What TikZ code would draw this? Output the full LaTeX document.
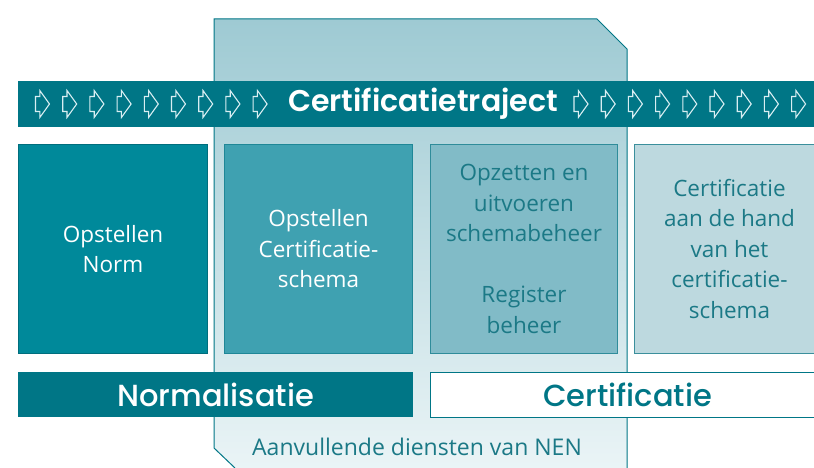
\documentclass[tikz,border=0pt]{standalone}
\usepackage{fontspec}
\setmainfont{Open Sans}
\newfontfamily\headfont{Poppins}[BoldFont={* SemiBold}]
\newfontfamily\barfont{Poppins Medium}
\usetikzlibrary{positioning}
\definecolor{nenteal}{HTML}{007686}
\definecolor{nentext}{HTML}{1B7986}
\definecolor{normfill}{HTML}{00899A}
\definecolor{normline}{HTML}{006E7D}
\definecolor{schemafill}{HTML}{3FA1B1}
\definecolor{schemaline}{HTML}{1F8797}
\definecolor{beheerfill}{HTML}{81BBC7}
\definecolor{beheerline}{HTML}{2F8C9A}
\definecolor{certfill}{HTML}{BDD9DF}
\definecolor{certline}{HTML}{3B8F9C}
\definecolor{bgtop}{HTML}{9ECAD3}
\definecolor{bgbottom}{HTML}{EAF4F6}
\definecolor{arrowline}{HTML}{D8EEF2}

\begin{document}
\begin{tikzpicture}[x=1pt, y=-1pt,
        stepbox/.style={rectangle, line width=1, align=center, anchor=north west,
            minimum height=209, font=\fontsize{22.5}{30.5}\selectfont},
        bar/.style={rectangle, anchor=north west, minimum height=45, inner sep=0,
            font=\barfont\fontsize{30.5}{32}\selectfont},
        flow arrow/.pic={
            \draw[arrowline, line width=1.1, line join=miter]
                (-7,-7.5) -- (-2.7,-7.5) -- (-2.7,-13.5) -- (7,0) -- (-2.7,13.5) -- (-2.7,7.5) -- (-7,7.5) -- cycle;
        }]
    \useasboundingbox (0,0) rectangle (814,468);

    % achtergrond: aanvullende diensten
    \shade[top color=bgtop, bottom color=bgbottom]
        (214,19) -- (597,19) -- (627,49) -- (627,468) -- (235,468) -- (214,448) -- cycle;
    \draw[nenteal, line width=1]
        (235,468) -- (214,448) -- (214,19) -- (597,19) -- (627,49) -- (627,468);

    % balk certificatietraject
    \node[rectangle, fill=nenteal, anchor=north west, minimum width=796, minimum height=46, inner sep=0] (traject) at (18,81) {};
    \node[text=white, font=\headfont\bfseries\fontsize{30}{32}\selectfont] (trajecttitle) at (423,104) {Certificatietraject};
    \foreach \x in {0,...,8} {
        \pic at ({42.5+27.2*\x},104) {flow arrow};
        \pic at ({581+27.2*\x},104) {flow arrow};
    }

    % stappen
    \node[stepbox, fill=normfill, draw=normline, text=white, minimum width=189] (norm) at (18,144) {Opstellen\\Norm};
    \node[stepbox, fill=schemafill, draw=schemaline, text=white, minimum width=188] (schema) at (224,144) {Opstellen\\Certificatie-\\schema};
    \node[stepbox, fill=beheerfill, draw=beheerline, text=nentext, minimum width=187] (beheer) at (430,144) {Opzetten en\\uitvoeren\\schemabeheer\\[30.5pt]Register\\beheer};
    \node[stepbox, fill=certfill, draw=certline, text=nentext, minimum width=190] (certificatie) at (634,144) {Certificatie\\aan de hand\\van het\\certificatie-\\schema};

    % normalisatie en certificatie
    \node[bar, fill=nenteal, text=white, minimum width=395] (normalisatie) at (18,372) {Normalisatie};
    \node[bar, fill=white, draw=nenteal, line width=1, text=nenteal, minimum width=394] (certbar) at (430,372) {Certificatie};

    \node[text=nentext, font=\fontsize{23}{26}\selectfont] (diensten) at (417,447) {Aanvullende diensten van NEN};
\end{tikzpicture}
\end{document}
